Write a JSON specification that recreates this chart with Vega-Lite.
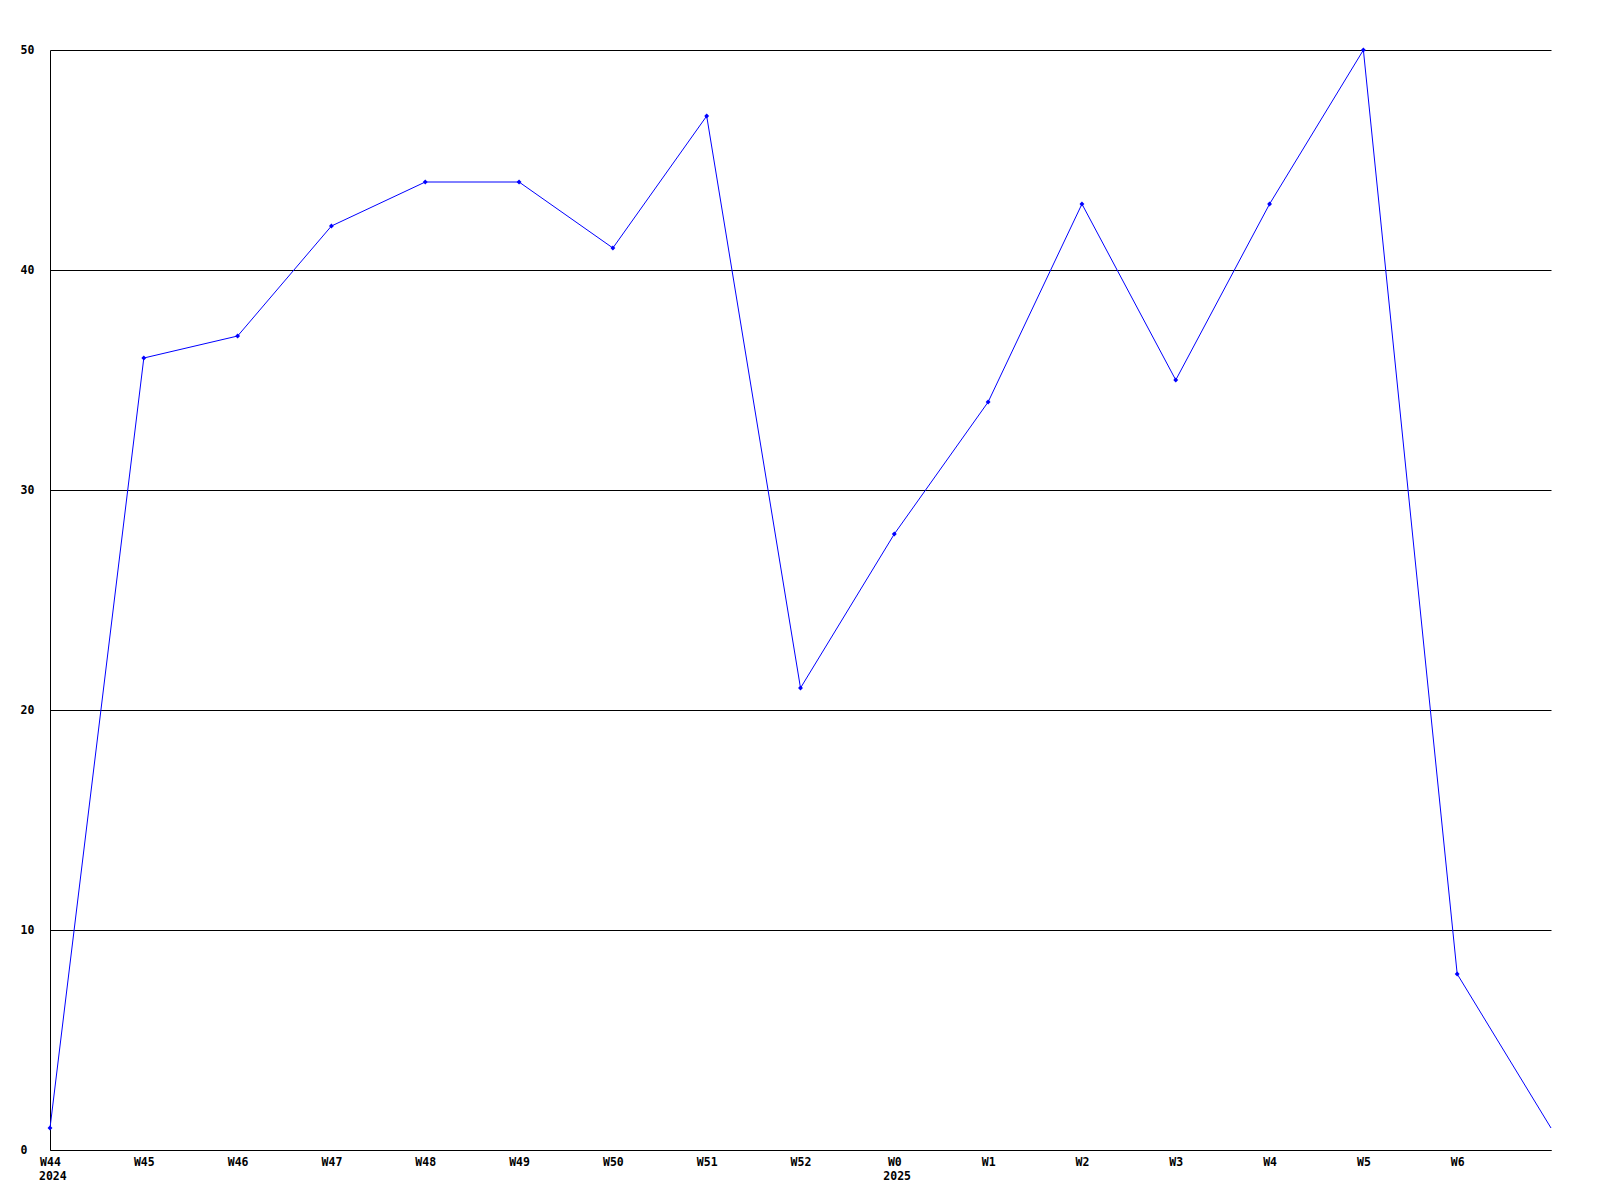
{
  "$schema": "https://vega.github.io/schema/vega-lite/v6.json",
  "width": 1501,
  "height": 1100,
  "autosize": {"type": "none"},
  "padding": {"left": 50, "top": 50, "right": 49, "bottom": 50},
  "background": "white",
  "config": {
    "view": {"stroke": null},
    "font": "DejaVu Sans Mono"
  },
  "datasets": {
    "series": [
      {"week": "W44", "value": 1},
      {"week": "W45", "value": 36},
      {"week": "W46", "value": 37},
      {"week": "W47", "value": 42},
      {"week": "W48", "value": 44},
      {"week": "W49", "value": 44},
      {"week": "W50", "value": 41},
      {"week": "W51", "value": 47},
      {"week": "W52", "value": 21},
      {"week": "W0", "value": 28},
      {"week": "W1", "value": 34},
      {"week": "W2", "value": 43},
      {"week": "W3", "value": 35},
      {"week": "W4", "value": 43},
      {"week": "W5", "value": 50},
      {"week": "W6", "value": 8},
      {"week": "W7", "value": 1}
    ],
    "years": [
      {"week": "W44", "year": "2024", "value": 0},
      {"week": "W0", "year": "2025", "value": 0}
    ]
  },
  "layer": [
    {
      "data": {"name": "series"},
      "mark": {"type": "line", "color": "#0000ff", "strokeWidth": 1},
      "encoding": {
        "x": {
          "field": "week",
          "type": "ordinal",
          "sort": null,
          "scale": {"type": "point", "padding": 0},
          "axis": {
            "title": null,
            "labelAngle": 0,
            "ticks": false,
            "tickSize": 0,
            "grid": false,
            "domainColor": "black",
            "domainWidth": 1,
            "labelFont": "DejaVu Sans Mono",
            "labelFontWeight": "bold",
            "labelFontSize": 11.5,
            "labelColor": "black",
            "labelPadding": 6,
            "labelExpr": "datum.value == 'W7' ? '' : datum.value"
          }
        },
        "y": {
          "field": "value",
          "type": "quantitative",
          "scale": {"domain": [0, 50], "nice": false},
          "axis": {
            "title": null,
            "values": [0, 10, 20, 30, 40, 50],
            "ticks": false,
            "tickSize": 0,
            "grid": true,
            "gridColor": "black",
            "gridOpacity": 1,
            "gridWidth": 1,
            "domainColor": "black",
            "labelFont": "DejaVu Sans Mono",
            "labelFontWeight": "bold",
            "labelFontSize": 11.5,
            "labelColor": "black",
            "labelAlign": "left",
            "labelBaseline": "middle",
            "labelPadding": 30
          }
        }
      }
    },
    {
      "data": {"name": "series"},
      "transform": [{"filter": "datum.week != 'W7'"}],
      "mark": {"type": "point", "shape": "diamond", "filled": true, "color": "#0000ff", "size": 24, "opacity": 1},
      "encoding": {
        "x": {"field": "week", "type": "ordinal", "sort": null, "scale": {"type": "point", "padding": 0}},
        "y": {"field": "value", "type": "quantitative"}
      }
    },
    {
      "data": {"name": "years"},
      "mark": {"type": "text", "align": "left", "baseline": "top", "dx": -11, "dy": 21, "font": "DejaVu Sans Mono", "fontWeight": "bold", "fontSize": 11.5, "color": "black"},
      "encoding": {
        "x": {"field": "week", "type": "ordinal", "sort": null, "scale": {"type": "point", "padding": 0}},
        "y": {"field": "value", "type": "quantitative"},
        "text": {"field": "year"}
      }
    }
  ]
}
